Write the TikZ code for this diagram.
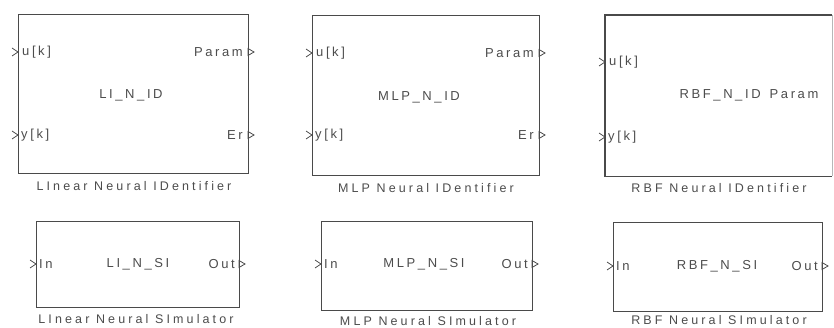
\documentclass[tikz,border=0pt]{standalone}
\usepackage{fontspec}
\setmainfont{Liberation Sans}[LetterSpace=20]
\newfontfamily\capfont{Liberation Sans}[LetterSpace=25]
\usetikzlibrary{calc}
\definecolor{ink}{HTML}{4A4A4A}
\definecolor{txt}{HTML}{4C4C4C}
\tikzset{
  blk/.style={draw=ink, line width=1.1pt, anchor=north west, inner sep=0pt},
  lbl/.style={text=txt, font=\fontsize{13}{15}\selectfont, inner sep=0pt},
  captxt/.style={text=txt, font=\capfont\fontsize{12.5}{14}\selectfont, inner sep=0pt},
  inlbl/.style={lbl, anchor=west},
  outlbl/.style={lbl, anchor=east},
  inport/.style={draw=ink, line width=0.8pt},
  outport/.style={draw=ink, line width=0.8pt},
}
\newcommand{\inchev}[1]{\draw[inport] ([shift={(-6,-4)}]#1) -- (#1) -- ([shift={(-6,4)}]#1);}
\newcommand{\outtri}[1]{\draw[outport] ([shift={(0,-3.5)}]#1) -- ([shift={(6,0)}]#1) -- ([shift={(0,3.5)}]#1) -- cycle;}
\begin{document}
\begin{tikzpicture}[x=1pt,y=-1pt]
\useasboundingbox (0,0) rectangle (834,328);
% ---------- top row ----------
\node[blk, minimum width=230pt, minimum height=159pt] (b1) at (18,14) {};
\node[blk, minimum width=227pt, minimum height=160pt] (b2) at (312,15) {};
\node[blk, minimum width=226pt, minimum height=160pt, draw=none] (b3) at (605,15) {};
\draw[ink, line width=1.1pt] (b3.north east) -- (b3.north west) -- (b3.south west) -- (b3.south east);
\draw[ink!40, line width=0.6pt] (b3.north east) -- (b3.south east);
% ports block 1
\coordinate (b1u) at (18,52); \coordinate (b1y) at (18,135);
\coordinate (b1p) at (248,52); \coordinate (b1e) at (248,135);
\inchev{b1u} \inchev{b1y} \outtri{b1p} \outtri{b1e}
\node[inlbl] (t1u) at ([xshift=4pt]b1u) {u[k]};
\node[inlbl] (t1y) at ([xshift=3pt]b1y) {y[k]};
\node[outlbl] (t1p) at ([xshift=-5pt]b1p) {Param};
\node[outlbl] (t1e) at ([xshift=-5pt]b1e) {Er};
\node[lbl] (t1c) at (131,95) {LI\_N\_ID};
\node[captxt] (c1) at (134,186) {LInear Neural IDentifier};
% ports block 2
\coordinate (b2u) at (312,53); \coordinate (b2y) at (312,135);
\coordinate (b2p) at (539,53); \coordinate (b2e) at (539,135);
\inchev{b2u} \inchev{b2y} \outtri{b2p} \outtri{b2e}
\node[inlbl] (t2u) at ([xshift=4pt]b2u) {u[k]};
\node[inlbl] (t2y) at ([xshift=3pt]b2y) {y[k]};
\node[outlbl] (t2p) at ([xshift=-5pt]b2p) {Param};
\node[outlbl] (t2e) at ([xshift=-5pt]b2e) {Er};
\node[lbl] (t2c) at (419,97) {MLP\_N\_ID};
\node[captxt] (c2) at (426,188) {MLP Neural IDentifier};
% ports block 3
\coordinate (b3u) at (605,62); \coordinate (b3y) at (605,137);
\inchev{b3u} \inchev{b3y}
\node[inlbl] (t3u) at ([xshift=4pt]b3u) {u[k]};
\node[inlbl] (t3y) at ([xshift=3pt]b3y) {y[k]};
\node[lbl] (t3c) at (749,95) {RBF\_N\_ID\hspace{9pt}Param};
\node[captxt] (c3) at (719,188) {RBF Neural IDentifier};
% ---------- bottom row ----------
\node[blk, minimum width=203pt, minimum height=86pt] (b4) at (36,221) {};
\node[blk, minimum width=211pt, minimum height=89pt] (b5) at (321,221) {};
\node[blk, minimum width=209pt, minimum height=89pt] (b6) at (613,222) {};
\coordinate (b4i) at (36,264); \coordinate (b4o) at (239,264);
\coordinate (b5i) at (321,264); \coordinate (b5o) at (532,264);
\coordinate (b6i) at (613,266); \coordinate (b6o) at (822,266);
\inchev{b4i} \outtri{b4o} \inchev{b5i} \outtri{b5o} \inchev{b6i} \outtri{b6o}
\node[inlbl] (t4i) at ([xshift=3pt]b4i) {In};
\node[outlbl] (t4o) at ([xshift=-4pt]b4o) {Out};
\node[lbl] (t4c) at (138,264) {LI\_N\_SI};
\node[captxt] (c4) at (136,319) {LInear Neural SImulator};
\node[inlbl] (t5i) at ([xshift=3pt]b5i) {In};
\node[outlbl] (t5o) at ([xshift=-4pt]b5o) {Out};
\node[lbl] (t5c) at (424,264) {MLP\_N\_SI};
\node[captxt] (c5) at (428,321) {MLP Neural SImulator};
\node[inlbl] (t6i) at ([xshift=3pt]b6i) {In};
\node[outlbl] (t6o) at ([xshift=-4pt]b6o) {Out};
\node[lbl] (t6c) at (717,266) {RBF\_N\_SI};
\node[captxt] (c6) at (719,320) {RBF Neural SImulator};
\end{tikzpicture}
\end{document}
